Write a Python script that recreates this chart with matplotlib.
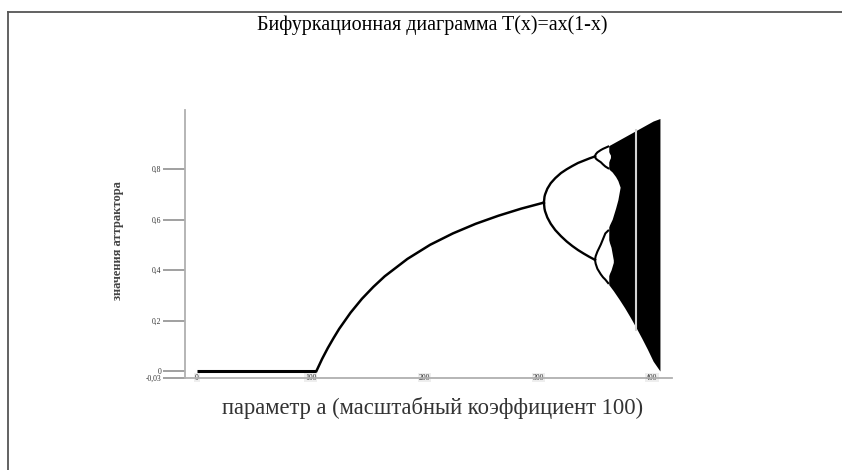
import matplotlib.pyplot as plt
from matplotlib.lines import Line2D

# parameter a (scaled by 100) and steady-state values read for each branch
zero_a = [0, 105]
zero_x = [0, 0]

fixed_a = [105, 110, 115, 120, 125, 135, 145, 155, 165, 185, 205, 225, 245, 265, 285, 305]
fixed_x = [0, 0.048, 0.091, 0.130, 0.167, 0.231, 0.286, 0.333, 0.375, 0.444,
           0.500, 0.545, 0.583, 0.615, 0.643, 0.667]

p2_a = [305, 305.5, 306, 308, 311, 315, 320, 325, 330, 335, 340, 345, 350]
p2_hi = [0.667, 0.690, 0.699, 0.722, 0.744, 0.764, 0.784, 0.799, 0.812, 0.824, 0.833, 0.842, 0.850]
p2_lo = [0.667, 0.643, 0.633, 0.608, 0.583, 0.558, 0.534, 0.513, 0.495, 0.479, 0.465, 0.452, 0.440]

p4_a = [349.9, 350.5, 352, 355, 357, 359, 361.5]
p4_top_out = [0.850, 0.858, 0.866, 0.875, 0.880, 0.884, 0.889]
p4_top_in = [0.850, 0.842, 0.836, 0.827, 0.818, 0.810, 0.803]
p4_bot_out = [0.440, 0.455, 0.473, 0.501, 0.523, 0.545, 0.556]
p4_bot_in = [0.440, 0.425, 0.405, 0.383, 0.371, 0.362, 0.348]

# chaotic band envelope
band_a = [362, 366, 371, 376, 381, 386, 391, 396, 401, 407]
band_hi = [0.8925, 0.9025, 0.915, 0.9275, 0.94, 0.9525, 0.965, 0.9775, 0.99, 1.0]
band_lo = [0.342, 0.318, 0.285, 0.250, 0.212, 0.172, 0.130, 0.086, 0.039, 0.0]

# empty gaps inside the band
gap_a = [361, 365, 368, 370, 372]
gap_hi = [0.804, 0.788, 0.770, 0.754, 0.728]
gap_lo = [0.563, 0.601, 0.645, 0.678, 0.728]

hole_top_a = [361, 363.5]
hole_top_hi = [0.875, 0.855]
hole_top_lo = [0.82, 0.845]

hole_bot_a = [361, 364, 366]
hole_bot_hi = [0.53, 0.49, 0.44]
hole_bot_lo = [0.37, 0.40, 0.43]

# period-3 window
window_a = 386
window_lo = 0.16
window_hi = 0.96

yticks = [-0.0265, 0, 0.2, 0.4, 0.6, 0.8]
ytick_labels = ["-0,03", "0", "0,2", "0,4", "0,6", "0,8"]
xticks = [0, 100, 200, 300, 400]

fig = plt.figure(figsize=(8.42, 4.70), dpi=100)
ax = fig.add_axes([185 / 842, 1 - 377.7 / 470, (672 - 185) / 842, (377.7 - 110) / 470])

ax.fill_between(band_a, band_lo, band_hi, color="black", lw=0)
ax.fill_between(gap_a, gap_lo, gap_hi, color="white", lw=0)
ax.fill_between(hole_top_a, hole_top_lo, hole_top_hi, color="white", lw=0)
ax.fill_between(hole_bot_a, hole_bot_lo, hole_bot_hi, color="white", lw=0)
ax.vlines(window_a, window_lo, window_hi, color="#d4d4d4", lw=1.5)

ax.plot(zero_a, zero_x, color="black", lw=2.2, solid_capstyle="butt")
ax.plot(fixed_a, fixed_x, color="black", lw=1.8)
ax.plot(p2_a, p2_hi, color="black", lw=1.7)
ax.plot(p2_a, p2_lo, color="black", lw=1.7)
for branch in (p4_top_out, p4_top_in, p4_bot_out, p4_bot_in):
    ax.plot(p4_a, branch, color="black", lw=1.5)

ax.set_xlim(-10.55, 417.6)
ax.set_ylim(-0.0265, 1.0337)

for side in ("top", "right"):
    ax.spines[side].set_visible(False)
for side in ("left", "bottom"):
    ax.spines[side].set_color("#b0b0b0")
    ax.spines[side].set_linewidth(1.3)

ax.set_yticks(yticks)
ax.set_yticklabels(ytick_labels, family="Liberation Serif", fontsize=5.5, color="#333333")
ax.tick_params(axis="y", length=16, width=1.2, color="#909090", pad=1)

ax.set_xticks(xticks)
ax.set_xticklabels([str(t) for t in xticks], family="Liberation Serif", fontsize=5.5, color="#333333")
ax.tick_params(axis="x", length=0, pad=-3)
for lbl in ax.get_xticklabels():
    lbl.set_bbox(dict(facecolor="#eeeeee", edgecolor="none", pad=0.6))

ax.set_xlabel("параметр a (масштабный коэффициент 100)", family="Liberation Serif",
              fontsize=16.3, color="#333333", va="center")
ax.xaxis.set_label_coords(0.509, -0.113)
ax.set_ylabel("значения аттрактора", family="Liberation Serif", fontweight="bold",
              fontsize=9, color="#444444", va="center")
ax.yaxis.set_label_coords(-0.1376, 0.514)

fig.text(432 / 842, 1 - 25 / 470, "Бифуркационная диаграмма T(x)=ax(1-x)",
         ha="center", va="center", family="Liberation Serif", fontsize=14.4)

# outer frame (only top and left edges fall inside the image)
fig.add_artist(Line2D([8 / 842, 1], [1 - 12 / 470] * 2, transform=fig.transFigure,
                      color="#555555", lw=1.3))
fig.add_artist(Line2D([8 / 842] * 2, [0, 1 - 12 / 470], transform=fig.transFigure,
                      color="#555555", lw=1.3))

fig.savefig("out.png", dpi=100)
